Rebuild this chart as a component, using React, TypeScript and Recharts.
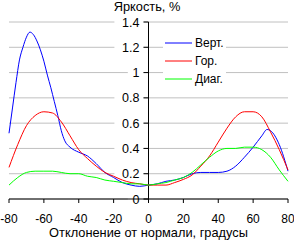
import {
  LineChart,
  Line,
  XAxis,
  YAxis,
  ReferenceLine,
  Legend,
  Label,
} from "recharts";

// angles, degrees
const vertAngles = [-80, -78, -76, -74, -72, -70, -68, -66, -64, -62, -60, -58, -56, -54, -52, -50, -48, -45, -40, -35, -30, -25, -20, -15, -10, -5, 0, 5, 10, 15, 20, 25, 30, 35, 40, 45, 50, 55, 60, 65, 68, 70, 75, 80];
const vertValues = [0.52, 0.72, 0.92, 1.1, 1.2, 1.28, 1.32, 1.3, 1.25, 1.18, 1.09, 0.98, 0.88, 0.77, 0.66, 0.54, 0.46, 0.41, 0.37, 0.34, 0.28, 0.21, 0.17, 0.13, 0.11, 0.1, 0.11, 0.12, 0.14, 0.15, 0.17, 0.2, 0.21, 0.21, 0.21, 0.22, 0.26, 0.33, 0.41, 0.5, 0.55, 0.54, 0.43, 0.22];

const stepAngles = [-80, -75, -70, -65, -60, -55, -50, -45, -40, -35, -30, -25, -20, -15, -10, -5, 0, 5, 10, 15, 20, 25, 30, 35, 40, 45, 50, 55, 60, 65, 70, 75, 80];
const horValues = [0.25, 0.43, 0.58, 0.66, 0.69, 0.68, 0.61, 0.5, 0.39, 0.32, 0.26, 0.21, 0.18, 0.15, 0.13, 0.12, 0.11, 0.11, 0.11, 0.13, 0.155, 0.19, 0.26, 0.34, 0.45, 0.56, 0.65, 0.69, 0.69, 0.65, 0.53, 0.39, 0.23];
const diagValues = [0.11, 0.17, 0.21, 0.22, 0.22, 0.22, 0.21, 0.2, 0.2, 0.18, 0.17, 0.15, 0.14, 0.13, 0.12, 0.12, 0.11, 0.12, 0.13, 0.15, 0.17, 0.21, 0.27, 0.33, 0.38, 0.4, 0.4, 0.41, 0.41, 0.39, 0.33, 0.23, 0.14];

const xTicks = [-80, -60, -40, -20, 0, 20, 40, 60, 80];
const yTicks = [0, 0.2, 0.4, 0.6, 0.8, 1, 1.2, 1.4];

const toPoints = (angles: number[], values: number[]) =>
  angles.map((angle, i) => ({ angle, value: values[i] }));

const series = [
  { name: "Верт.", color: "#0000ff", data: toPoints(vertAngles, vertValues) },
  { name: "Гор.", color: "#ff0000", data: toPoints(stepAngles, horValues) },
  { name: "Диаг.", color: "#00ff00", data: toPoints(stepAngles, diagValues) },
];

const W = 294;
const H = 240;
const M = { top: 22, right: 6, bottom: 0, left: 9 };
const FONT = "'Liberation Sans', Arial, sans-serif";

// value label for a gridline, drawn on the central zero axis
function CenterLabel(props: any) {
  const { viewBox, value } = props;
  const cx = viewBox.x + viewBox.width / 2;
  const y = viewBox.y;
  const label = String(value);
  const w = label.length * 6.7 + 4;
  return (
    <g>
      <rect x={cx - 10 - w} y={y - 1.5} width={w + 5} height={3} fill="#fff" />
      <line x1={cx - 5} y1={y} x2={cx} y2={y} stroke="#000" />
      <text x={cx - 9} y={y} dy="0.36em" textAnchor="end" fill="#000" fontSize={12.5} fontFamily={FONT}>
        {label}
      </text>
    </g>
  );
}

function LegendBox() {
  return (
    <div style={{ background: "#fff", width: 63, padding: "3px 0 4px 0", fontFamily: FONT, fontSize: 12 }}>
      {series.map((s) => (
        <div key={s.name} style={{ display: "flex", alignItems: "center", height: 18 }}>
          <svg width={32} height={4}>
            <line x1={2} y1={2} x2={29} y2={2} stroke={s.color} />
          </svg>
          <span style={{ color: "#000" }}>{s.name}</span>
        </div>
      ))}
    </div>
  );
}

export default function App() {
  return (
    <div style={{ position: "absolute", left: 0, top: 0, width: W, height: H, background: "#fff" }}>
      <div
        style={{
          position: "absolute",
          top: 0,
          left: 0,
          width: W,
          textAlign: "center",
          fontFamily: FONT,
          fontSize: 12.8,
          lineHeight: "13px",
          zIndex: 2,
        }}
      >
        Яркость, %
      </div>
      <LineChart width={W} height={H} margin={M} style={{ fontFamily: FONT }}>
        <XAxis
          dataKey="angle"
          type="number"
          domain={[-80, 80]}
          ticks={xTicks}
          allowDuplicatedCategory={false}
          height={41}
          stroke="#000"
          tickSize={4}
          tickMargin={11}
          tick={{ fill: "#000", fontSize: 12 }}
        >
          <Label value="Отклонение от нормали, градусы" position="insideBottom" offset={3} fill="#000" fontSize={12.8} />
        </XAxis>
        <YAxis type="number" domain={[0, 1.4]} ticks={yTicks} hide />
        {yTicks.map((v) => (
          <ReferenceLine
            key={v}
            y={v}
            stroke="#c0c0c0"
            label={(p: any) => <CenterLabel {...p} value={v} />}
          />
        ))}
        <ReferenceLine x={0} stroke="#000" />
        {series.map((s) => (
          <Line
            key={s.name}
            data={s.data}
            dataKey="value"
            name={s.name}
            type="monotone"
            stroke={s.color}
            strokeWidth={1}
            dot={false}
            isAnimationActive={false}
          />
        ))}
        <Legend
          layout="vertical"
          align="center"
          verticalAlign="middle"
          content={() => <LegendBox />}
          wrapperStyle={{ left: 163, top: 31, width: 63 }}
        />
      </LineChart>
    </div>
  );
}
